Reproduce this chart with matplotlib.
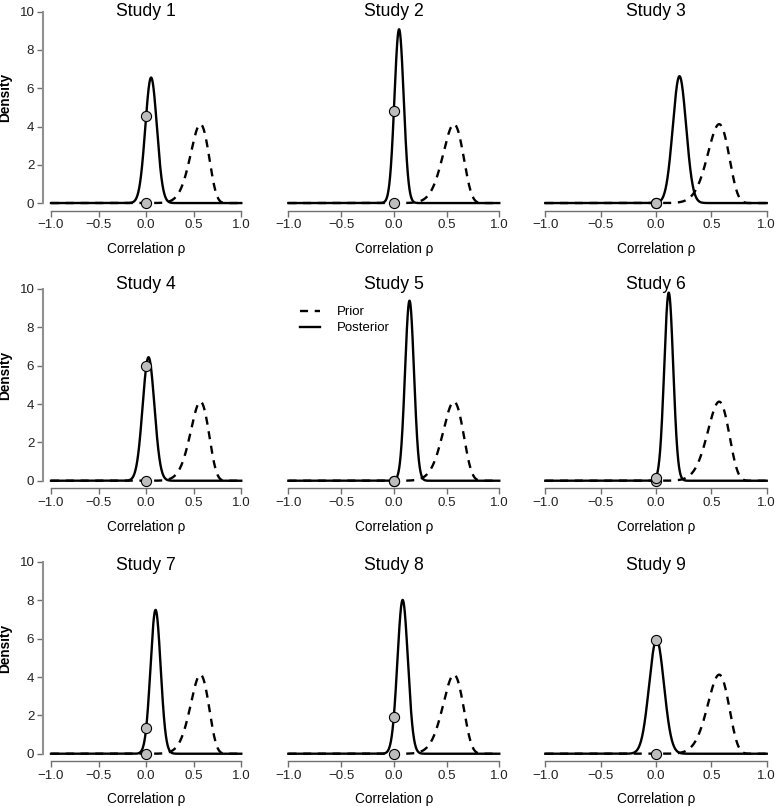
import numpy as np
import matplotlib
matplotlib.use("Agg")
import matplotlib.pyplot as plt
from matplotlib.ticker import FuncFormatter
from matplotlib.lines import Line2D

plt.rcParams['font.family'] = ['Liberation Sans', 'DejaVu Sans']
plt.rcParams['lines.scale_dashes'] = False

# values
studies = ["Study 1", "Study 2", "Study 3", "Study 4", "Study 5",
           "Study 6", "Study 7", "Study 8", "Study 9"]
post_mode = [0.052, 0.050, 0.212, 0.025, 0.149, 0.115, 0.099, 0.084, 0.005]
post_peak = [6.56, 9.08, 6.63, 6.44, 9.39, 9.81, 7.50, 8.02, 5.95]
# posterior / prior density at rho = 0 (grey dots)
post_at_zero = [4.57, 4.80, 0.0, 5.97, 0.0, 0.12, 1.32, 1.91, 5.93]
prior_at_zero = [0.0] * 9
# prior (same in every panel): normal on Fisher z scale, mode ~0.57, peak ~4.1
prior_z_mean = 0.625
prior_z_sd = 0.1415

x_ticks = [-1.0, -0.5, 0.0, 0.5, 1.0]
y_ticks = [0, 2, 4, 6, 8, 10]

W, H = 775, 807
fig = plt.figure(figsize=(W / 100, H / 100), dpi=100)

# panel boxes in pixels (left, right) and (top, bottom)
cols = [(43.4, 248.9), (279.9, 507.7), (536.4, 775.6)]
rows = [(4.05, 210.7), (281.3, 488.4), (554.3, 761.4)]
title_y = [11.2, 284.5, 565.5]
xlab_y = [249, 527, 799]
dens_y = [97.5, 375, 648]

rho = np.linspace(-1, 1, 2001)
z = np.arctanh(np.clip(rho, -0.999999, 0.999999))
prior = np.exp(-0.5 * ((z - prior_z_mean) / prior_z_sd) ** 2) / (
    prior_z_sd * np.sqrt(2 * np.pi) * (1 - rho ** 2))

fmt = FuncFormatter(lambda v, p: ("%.1f" % v).replace("-", "\u2212"))
dash = (5.8, 4.8)

for i in range(9):
    r, c = divmod(i, 3)
    l, rr = cols[c]
    t, b = rows[r]
    ax = fig.add_axes([l / W, 1 - b / H, (rr - l) / W, (b - t) / H])
    ax.set_xlim(-1.08, 1.08)
    ax.set_ylim(-0.4, 10.4)

    sd = 1 / (post_peak[i] * np.sqrt(2 * np.pi))
    post = post_peak[i] * np.exp(-0.5 * ((rho - post_mode[i]) / sd) ** 2)

    ax.plot(rho, prior, color='black', lw=1.7, dashes=dash)
    ax.plot(rho, post, color='black', lw=1.7)
    ax.plot([0, 0], [prior_at_zero[i], post_at_zero[i]], 'o', ms=7.3,
            mfc='#bdbdbd', mec='black', mew=0.8, zorder=5)

    for s in ['top', 'right']:
        ax.spines[s].set_visible(False)
    ax.spines['bottom'].set_bounds(-1, 1)
    ax.spines['bottom'].set_color('#707070')
    ax.spines['bottom'].set_linewidth(1.0)
    ax.set_xticks(x_ticks)
    ax.xaxis.set_major_formatter(fmt)
    ax.tick_params(axis='x', length=4, width=1.0, color='#707070',
                   labelsize=9.6, pad=2, labelcolor='#222222')

    if c == 0:
        ax.spines['left'].set_bounds(0, 10)
        ax.spines['left'].set_color('#909090')
        ax.spines['left'].set_linewidth(1.5)
        ax.set_yticks(y_ticks)
        ax.tick_params(axis='y', length=4, width=1.0, color='#707070',
                       labelsize=9.6, pad=2.5, labelcolor='#222222')
        fig.text(5.5 / W, 1 - dens_y[r] / H, "Density", rotation=90,
                 ha='center', va='center', fontsize=9.8, fontweight='bold')
    else:
        ax.spines['left'].set_visible(False)
        ax.set_yticks([])

    xc = l + (rr - l) / 2
    fig.text(xc / W, 1 - title_y[r] / H, studies[i], ha='center',
             va='center', fontsize=12.7)
    fig.text(xc / W, 1 - xlab_y[r] / H, "Correlation \u03c1", ha='center',
             va='center', fontsize=9.8)

    if i == 4:
        handles = [Line2D([], [], color='black', lw=1.7, dashes=dash),
                   Line2D([], [], color='black', lw=1.7)]
        ax.legend(handles, ["Prior", "Posterior"], loc='upper left',
                  bbox_to_anchor=(300 / W, 1 - 306 / H),
                  bbox_transform=fig.transFigure, frameon=False,
                  fontsize=9.5, handlelength=1.5, handletextpad=1.3,
                  labelspacing=0.3, borderpad=0, borderaxespad=0)

fig.savefig("out.png", dpi=100)
